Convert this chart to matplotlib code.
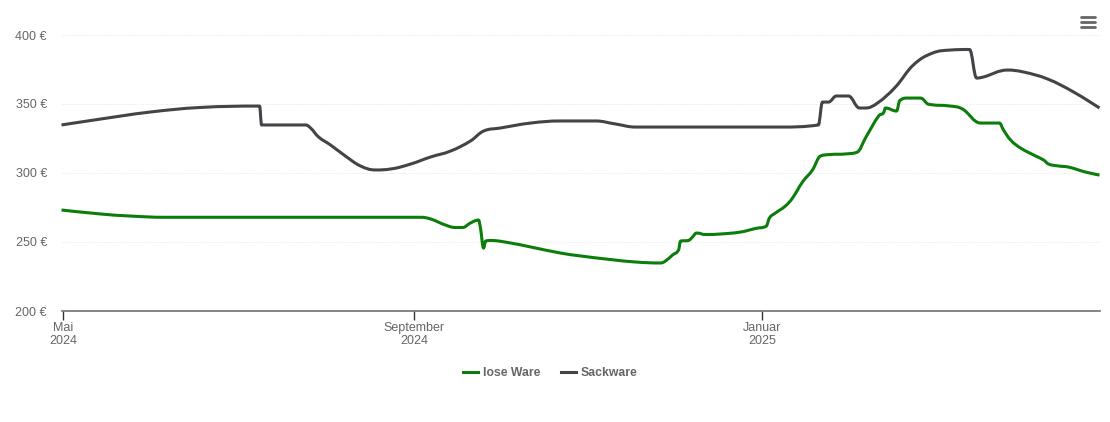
import matplotlib
matplotlib.use("Agg")
import matplotlib.pyplot as plt
from matplotlib.lines import Line2D
from matplotlib.patches import PathPatch
from matplotlib.path import Path

plt.rcParams["font.family"] = ["Liberation Sans", "DejaVu Sans"]

W, H = 1110, 422

# days since 1 May 2024, price in euro
lose_days = [-0.7, 13.0, 23.5, 35.8, 65.6, 125.3, 128.8, 134.0, 137.5, 140.0, 142.8, 145.6, 146.3, 147.4,
             148.1, 149.8, 156.8, 163.9, 174.4, 181.4, 191.9, 200.7, 209.5, 211.2, 213.7, 215.8, 216.5,
             219.3, 220.7, 222.1, 225.3, 230.5, 237.5, 242.8, 246.7, 247.7, 249.8, 253.3, 255.8, 259.3,
             262.8, 265.6, 269.1, 274.4, 278.6, 281.4, 286.0, 287.7, 288.4, 292.3, 293.3, 296.1, 300.7,
             303.2, 311.2, 315.4, 321.8, 328.4, 329.8, 332.3, 335.8, 341.1, 343.9, 345.6, 349.1, 352.6,
             358.6, 363.5]
lose_price = [273.2, 270.3, 268.8, 267.9, 267.9, 267.9, 266.7, 262.3, 260.5, 260.5, 263.8, 265.9, 260.1, 245.6,
              250.7, 251.1, 249.3, 246.4, 242.0, 239.9, 237.3, 235.5, 234.8, 236.2, 240.6, 244.2, 250.7,
              251.1, 253.6, 256.5, 255.4, 255.8, 257.2, 259.8, 261.6, 267.4, 271.0, 276.1, 281.9, 293.5,
              302.2, 312.3, 313.4, 313.8, 315.2, 325.4, 341.3, 343.5, 347.1, 344.9, 352.2, 354.3, 354.3,
              350.0, 348.5, 346.4, 336.2, 336.2, 331.2, 323.9, 318.1, 312.3, 309.4, 306.5, 305.1, 304.3,
              300.7, 298.5]

sack_days = [-0.7, 13.0, 30.5, 48.1, 68.8, 69.5, 84.9, 86.7, 89.5, 93.7, 98.9, 104.2, 109.5, 114.7, 121.8,
             128.8, 135.8, 142.8, 147.4, 153.3, 163.9, 174.4, 186.7, 193.7, 200.7, 223.5, 251.6, 264.9,
             266.3, 268.4, 271.2, 275.4, 279.3, 281.4, 285.6, 291.9, 298.2, 304.9, 311.2, 317.9, 320.4,
             322.8, 331.2, 336.8, 345.3, 354.4, 363.5]
sack_price = [334.8, 339.1, 344.2, 347.5, 348.5, 334.8, 334.8, 332.6, 326.1, 320.3, 312.3, 305.1, 302.2, 302.9, 306.5,
              311.6, 315.9, 323.2, 330.4, 332.6, 336.2, 337.7, 337.7, 335.5, 333.3, 333.3, 333.3, 334.8,
              351.4, 351.4, 355.8, 355.8, 347.1, 347.1, 350.7, 362.3, 378.3, 386.9, 389.1, 389.5, 368.8,
              369.6, 374.6, 373.2, 368.1, 358.7, 347.1]

y_ticks = [200, 250, 300, 350, 400]
y_labels = ["200 €", "250 €", "300 €", "350 €", "400 €"]
x_ticks = [0, 123, 245]
x_labels = ["Mai\n2024", "September\n2024", "Januar\n2025"]

GREEN = "#0a7d0a"
DARK = "#434348"
TEXT = "#666666"


def spline_path(xs, ys):
    # bezier segments through the points, with clamped control points so peaks don't overshoot
    n = len(xs)
    left, right = [None] * n, [None] * n
    left[0] = right[0] = (xs[0], ys[0])
    left[-1] = right[-1] = (xs[-1], ys[-1])
    for i in range(1, n - 1):
        x, y = xs[i], ys[i]
        lx, ly = (1.5 * x + xs[i - 1]) / 2.5, (1.5 * y + ys[i - 1]) / 2.5
        rx, ry = (1.5 * x + xs[i + 1]) / 2.5, (1.5 * y + ys[i + 1]) / 2.5
        fix = (ry - ly) * (rx - x) / (rx - lx) + y - ry
        ly += fix
        ry += fix
        if ly > max(ys[i - 1], y):
            ly = max(ys[i - 1], y)
            ry = 2 * y - ly
        elif ly < min(ys[i - 1], y):
            ly = min(ys[i - 1], y)
            ry = 2 * y - ly
        if ry > max(ys[i + 1], y):
            ry = max(ys[i + 1], y)
            ly = 2 * y - ry
        elif ry < min(ys[i + 1], y):
            ry = min(ys[i + 1], y)
            ly = 2 * y - ry
        left[i], right[i] = (lx, ly), (rx, ry)
    verts = [(xs[0], ys[0])]
    codes = [Path.MOVETO]
    for i in range(1, n):
        verts += [right[i - 1], left[i], (xs[i], ys[i])]
        codes += [Path.CURVE4, Path.CURVE4, Path.CURVE4]
    return Path(verts, codes)


fig = plt.figure(figsize=(W / 100, H / 100), dpi=100)
ax = fig.add_axes([61.5 / W, 1 - 311 / H, (1099 - 61) / W, (311 - 35) / H])

for xs, ys, col in ((lose_days, lose_price, GREEN), (sack_days, sack_price, DARK)):
    ax.add_patch(PathPatch(spline_path(xs, ys), fill=False, edgecolor=col, lw=2.2, joinstyle="round",
                           capstyle="butt", clip_on=False, zorder=3))

ax.set_xlim(-0.7, 363.5)
ax.set_ylim(200, 400)
ax.set_yticks(y_ticks)
ax.set_yticklabels(y_labels, color=TEXT, fontsize=9.0)
ax.set_xticks(x_ticks)
ax.set_xticklabels(x_labels, color=TEXT, fontsize=9.0, linespacing=1.15)
ax.tick_params(axis="y", length=0, pad=10.5)
ax.tick_params(axis="x", length=6.5, width=1, color="#333333", pad=1.2)
ax.grid(axis="y", color="#e6e6e6", lw=0.7, ls=(0, (1, 1.5)))
ax.set_axisbelow(True)
for side in ("top", "right", "left"):
    ax.spines[side].set_visible(False)
ax.spines["bottom"].set_color("#707070")
ax.spines["bottom"].set_linewidth(1.2)

handles = [Line2D([], [], color=GREEN, lw=2.2), Line2D([], [], color=DARK, lw=2.2)]
leg = fig.legend(handles, ["lose Ware", "Sackware"], loc="center", bbox_to_anchor=(550 / W, 1 - 373 / H),
                 ncol=2, frameon=False, handlelength=1.23, handletextpad=0.4, columnspacing=1.7,
                 prop={"weight": "bold", "size": 8.8})
for t in leg.get_texts():
    t.set_color(TEXT)

# menu icon, top right
for py in (16.5, 21.7, 26.5):
    fig.add_artist(Line2D([1081 / W, 1095 / W], [1 - py / H, 1 - py / H], color="#666666", lw=2.0,
                          solid_capstyle="round"))

fig.savefig("out.png", dpi=100, facecolor="white")
